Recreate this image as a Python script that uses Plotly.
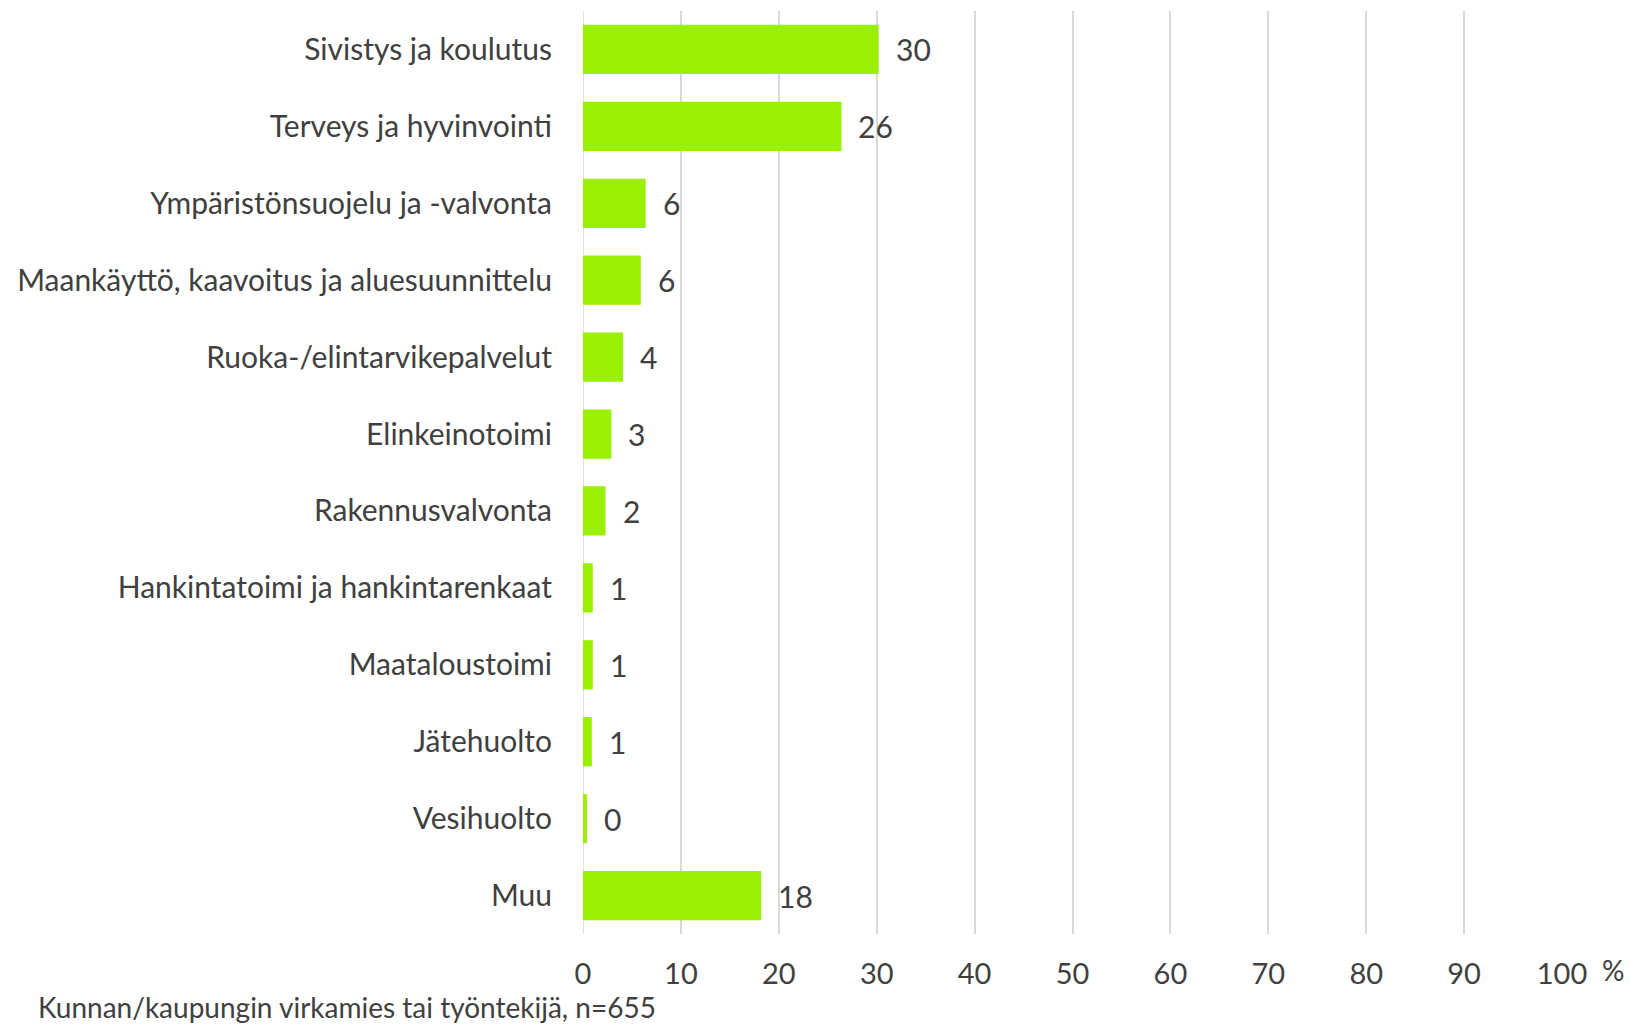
import plotly.graph_objects as go

# Share of respondents by sector (%)
categories = [
    "Sivistys ja koulutus",
    "Terveys ja hyvinvointi",
    "Ympäristönsuojelu ja -valvonta",
    "Maankäyttö, kaavoitus ja aluesuunnittelu",
    "Ruoka-/elintarvikepalvelut",
    "Elinkeinotoimi",
    "Rakennusvalvonta",
    "Hankintatoimi ja hankintarenkaat",
    "Maataloustoimi",
    "Jätehuolto",
    "Vesihuolto",
    "Muu",
]
values = [30.2, 26.4, 6.4, 5.9, 4.1, 2.9, 2.3, 1.0, 1.0, 0.9, 0.4, 18.2]
x_ticks = [0, 10, 20, 30, 40, 50, 60, 70, 80, 90, 100]
note = "Kunnan/kaupungin virkamies tai työntekijä, n=655"
unit = "%"

FONT = "Lato"
TEXT_COLOR = "#404040"
BAR_COLOR = "#99F000"
GRID_COLOR = "#D9D9D9"
FS = 30
TICK_FS = 29
NOTE_FS = 28

fig = go.Figure(
    go.Bar(
        x=values,
        y=categories,
        orientation="h",
        marker=dict(color=BAR_COLOR, line=dict(width=0)),
        hoverinfo="skip",
    )
)

annotations = [
    dict(
        x=v, y=c, xref="x", yref="y", text=f"{v:.0f}",
        showarrow=False, xanchor="left", yanchor="middle", xshift=15,
        font=dict(family=FONT, size=FS, color=TEXT_COLOR),
    )
    for c, v in zip(categories, values)
]
annotations.append(dict(
    x=1.052, y=-0.039, xref="paper", yref="paper", text=unit,
    showarrow=False, xanchor="center", yanchor="middle",
    font=dict(family=FONT, size=FS - 2, color=TEXT_COLOR),
))
annotations.append(dict(
    x=-0.5587, y=-0.0795, xref="paper", yref="paper", text=note,
    showarrow=False, xanchor="left", yanchor="middle",
    font=dict(family=FONT, size=NOTE_FS, color=TEXT_COLOR),
))

fig.update_layout(
    width=1629,
    height=1024,
    margin=dict(l=583, r=67, t=11, b=90, autoexpand=False),
    paper_bgcolor="white",
    plot_bgcolor="white",
    bargap=0.36,
    showlegend=False,
    font=dict(family=FONT, size=FS, color=TEXT_COLOR),
    annotations=annotations,
    xaxis=dict(
        range=[0, 100],
        tickvals=x_ticks,
        showgrid=True,
        gridcolor=GRID_COLOR,
        gridwidth=1.5,
        zeroline=False,
        showline=False,
        ticks="",
        ticklabelstandoff=20,
        tickfont=dict(family=FONT, size=TICK_FS, color=TEXT_COLOR),
        fixedrange=True,
    ),
    yaxis=dict(
        autorange="reversed",
        showgrid=False,
        zeroline=False,
        showline=False,
        ticks="",
        ticklabelstandoff=30,
        tickfont=dict(family=FONT, size=FS, color=TEXT_COLOR),
        fixedrange=True,
    ),
)

# Vertical axis line at zero, drawn in the grid colour
fig.add_shape(
    type="line", xref="x", yref="paper", x0=0, x1=0, y0=0, y1=1,
    line=dict(color=GRID_COLOR, width=1.5), layer="below",
)

fig.write_html("out.html", config={"displayModeBar": False})
